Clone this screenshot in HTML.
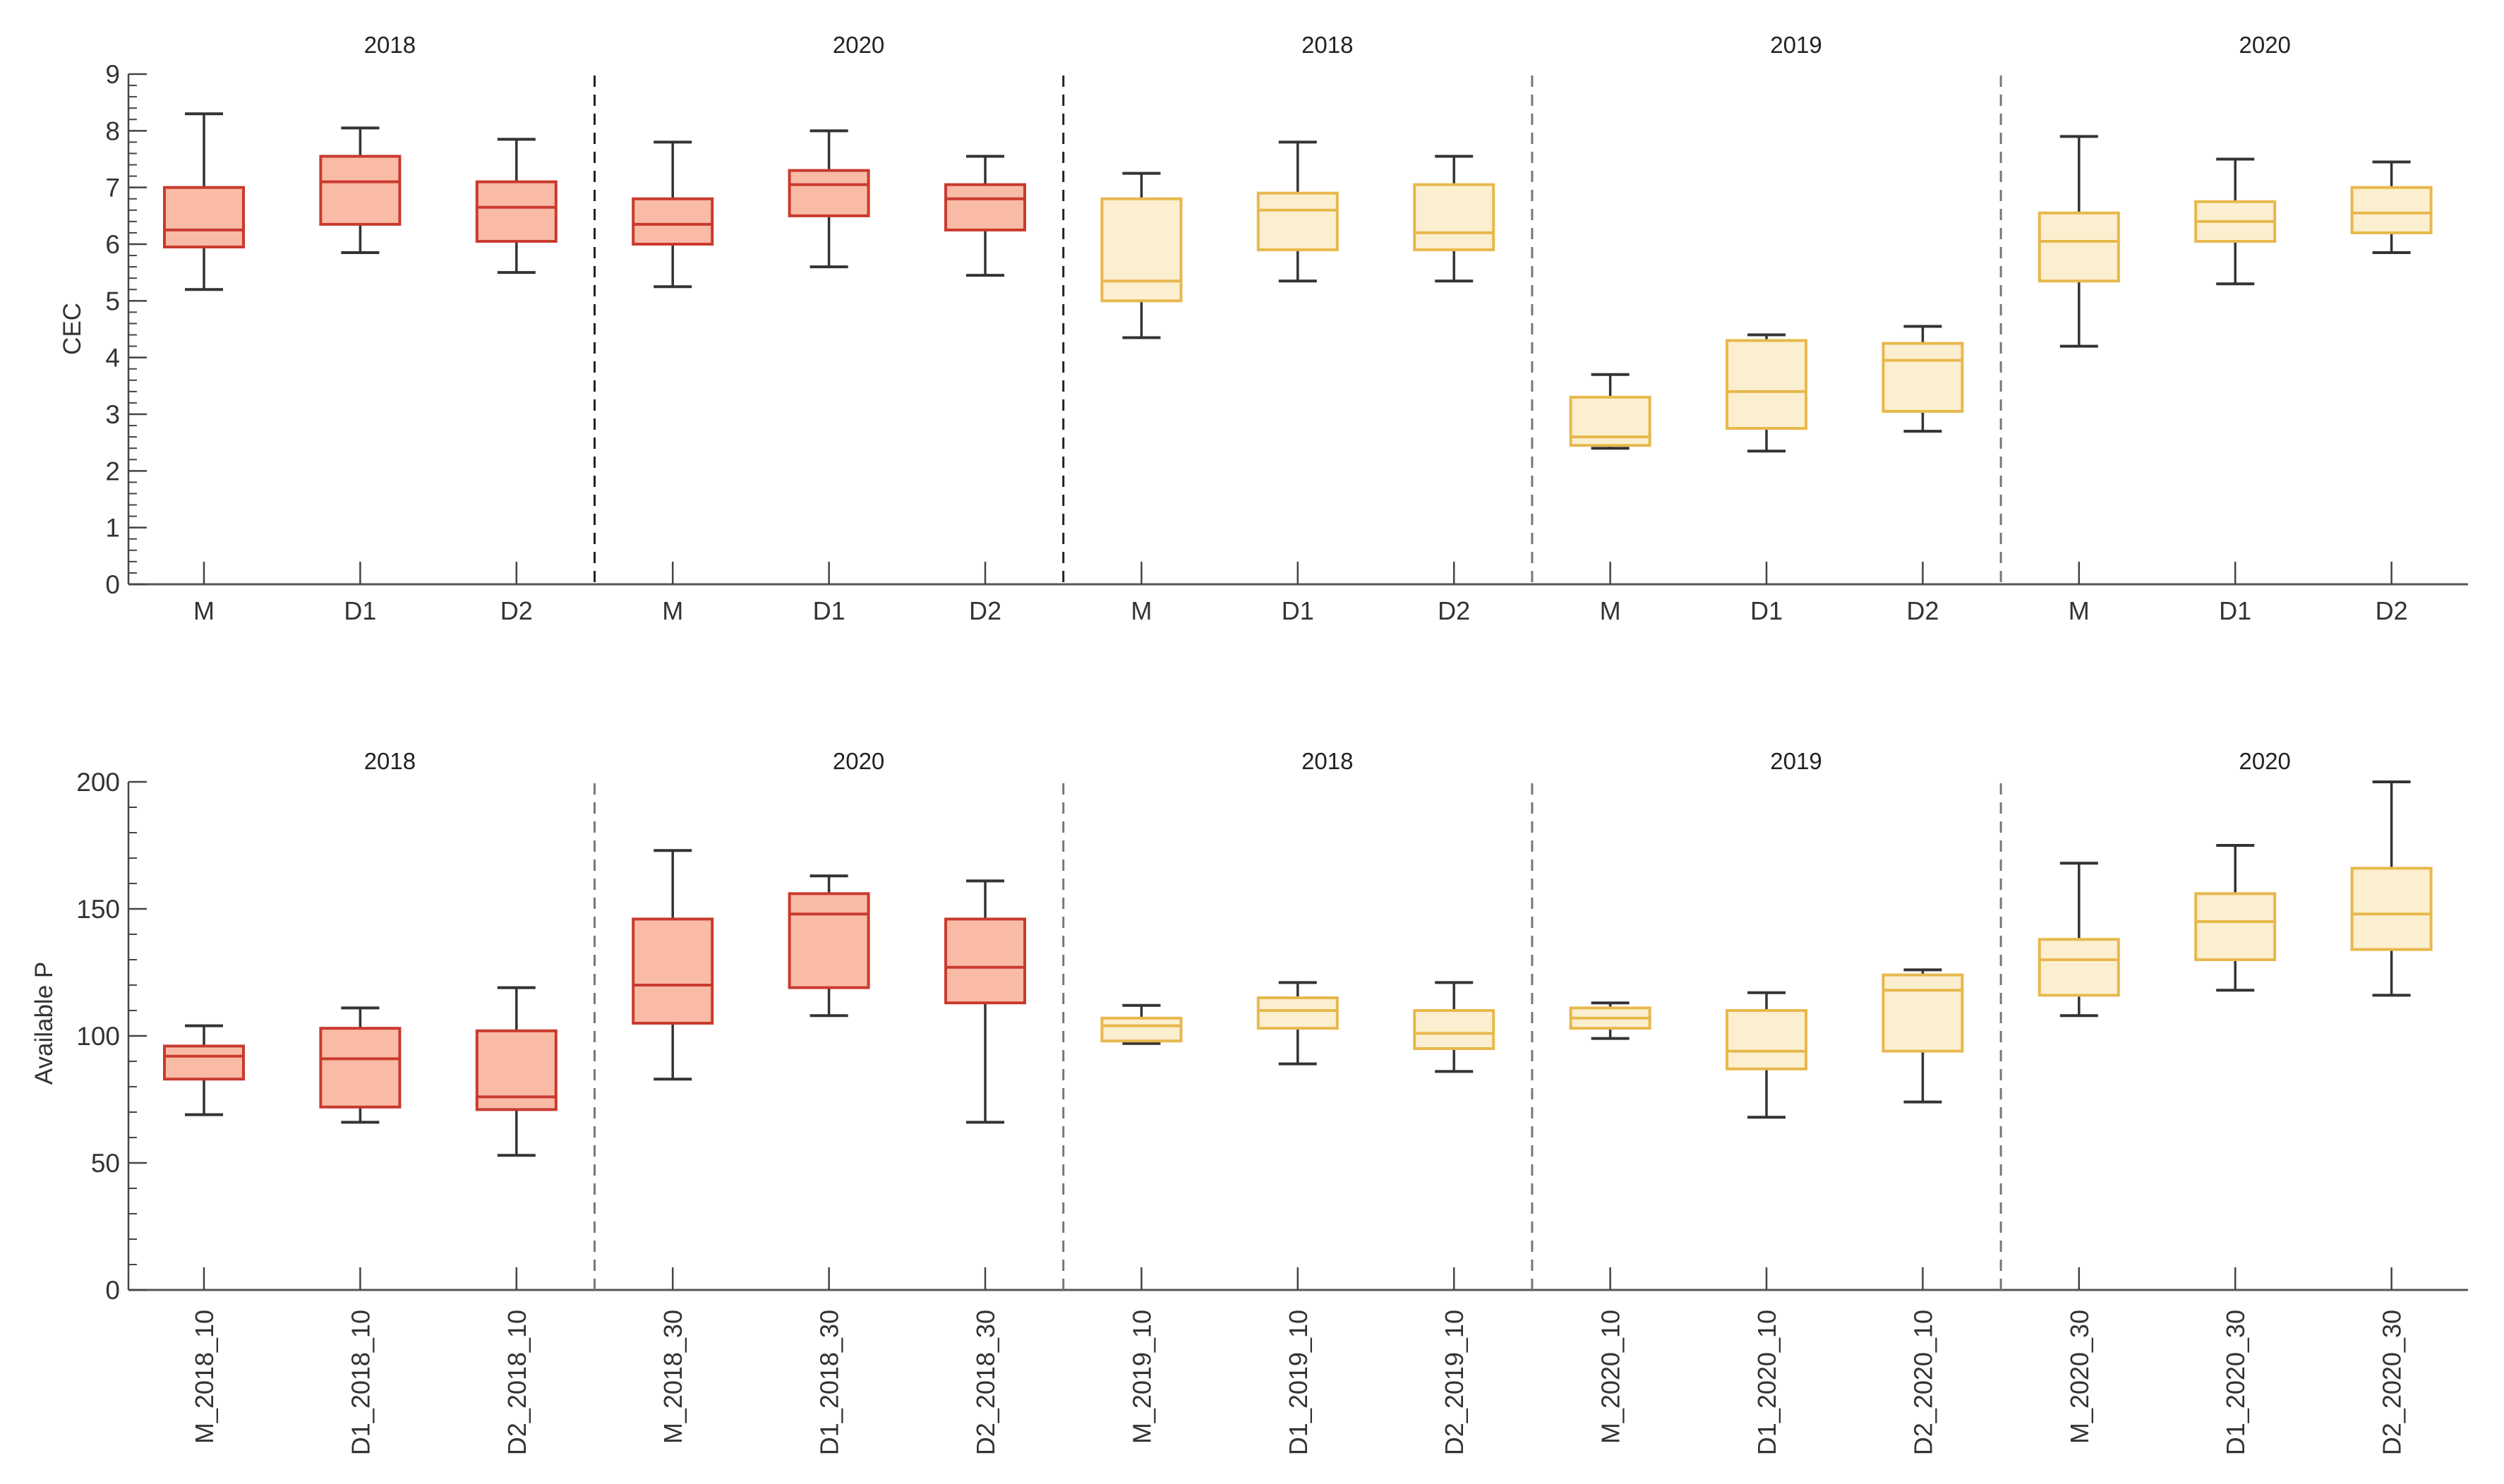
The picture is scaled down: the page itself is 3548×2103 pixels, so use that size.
<!DOCTYPE html>
<html><head><meta charset="utf-8"><style>
html,body{margin:0;padding:0;background:#fff;}
svg{display:block;font-family:"Liberation Sans",Arial,sans-serif;}
</style></head><body>
<svg id="chart" width="3548" height="2103" viewBox="0 0 3548 2103" xmlns="http://www.w3.org/2000/svg"></svg>
<script>
const groupTitles = ["2018","2020","2018","2019","2020"];
const topCats = ["M","D1","D2","M","D1","D2","M","D1","D2","M","D1","D2","M","D1","D2"];
const botCats = ["M_2018_10","D1_2018_10","D2_2018_10","M_2018_30","D1_2018_30","D2_2018_30","M_2019_10","D1_2019_10","D2_2019_10","M_2020_10","D1_2020_10","D2_2020_10","M_2020_30","D1_2020_30","D2_2020_30"];
const cecMin = [5.2,5.85,5.5, 5.25,5.6,5.45, 4.35,5.35,5.35, 2.4,2.35,2.7, 4.2,5.3,5.85];
const cecQ1  = [5.95,6.35,6.05, 6.0,6.5,6.25, 5.0,5.9,5.9, 2.45,2.75,3.05, 5.35,6.05,6.2];
const cecMed = [6.25,7.1,6.65, 6.35,7.05,6.8, 5.35,6.6,6.2, 2.6,3.4,3.95, 6.05,6.4,6.55];
const cecQ3  = [7.0,7.55,7.1, 6.8,7.3,7.05, 6.8,6.9,7.05, 3.3,4.3,4.25, 6.55,6.75,7.0];
const cecMax = [8.3,8.05,7.85, 7.8,8.0,7.55, 7.25,7.8,7.55, 3.7,4.4,4.55, 7.9,7.5,7.45];
const pMin = [69,66,53, 83,108,66, 97,89,86, 99,68,74, 108,118,116];
const pQ1  = [83,72,71, 105,119,113, 98,103,95, 103,87,94, 116,130,134];
const pMed = [92,91,76, 120,148,127, 104,110,101, 107,94,118, 130,145,148];
const pQ3  = [96,103,102, 146,156,146, 107,115,110, 111,110,124, 138,156,166];
const pMax = [104,111,119, 173,163,161, 112,121,121, 113,117,126, 168,175,200];
const cecTicks = [0,1,2,3,4,5,6,7,8,9];
const pTicks = [0,50,100,150,200];

const NS="http://www.w3.org/2000/svg";
const svg=document.getElementById('chart');
function mk(tag,attrs,parent,text){const e=document.createElementNS(NS,tag);for(const k in attrs)e.setAttribute(k,attrs[k]);if(text!==undefined)e.textContent=text;(parent||svg).appendChild(e);return e;}
const X0=289, DX=221.4, AXL=182, AXR=3497;
const xPos=i=>X0+i*DX;
const RED={fill:"#f9bba6",stroke:"#c93a2e"}, YEL={fill:"#fcefd0",stroke:"#e7b84c"};

function panel(cfg){
  const g=mk('g',{});
  
  
  const y=v=>cfg.y0-(v-cfg.vmin)/(cfg.vmax-cfg.vmin)*(cfg.y0-cfg.y1);
  const ax=mk('line',{x1:AXL,y1:cfg.y1,x2:AXL,y2:cfg.y0,stroke:"#444","stroke-width":2.5},g);
  
  const bx=mk('line',{x1:AXL,y1:cfg.y0,x2:AXR,y2:cfg.y0,stroke:"#555","stroke-width":3},g);
  
  for(let v=cfg.vmin;v<=cfg.vmax+1e-9;v+=cfg.minor){
    mk('line',{x1:AXL,y1:y(v),x2:AXL+12,y2:y(v),stroke:"#444","stroke-width":2},g);
  }
  cfg.ticks.forEach(t=>{
    mk('line',{x1:AXL,y1:y(t),x2:AXL+26,y2:y(t),stroke:"#444","stroke-width":2.5},g);
    const tl=mk('text',{x:AXL-12,y:y(t)+13,"text-anchor":"end","font-size":37,fill:"#333"},g,String(t));
    
  });
  const yt=mk('text',{x:cfg.ylx,y:cfg.yly,"text-anchor":"middle","font-size":35,fill:"#333",transform:`rotate(-90 ${cfg.ylx} ${cfg.yly})`},g,cfg.ylabel);
  
  [2,5,8,11].forEach((k,j)=>{
    const sx=(xPos(k)+xPos(k+1))/2;
    const s=mk('line',{x1:sx,y1:cfg.y1+2,x2:sx,y2:cfg.y0+6,stroke:cfg.sepColors[j],"stroke-width":3,"stroke-dasharray":"16,11"},g);
    
  });
  groupTitles.forEach((t,gi)=>{
    const tt=mk('text',{x:xPos(gi*3+1)+42,y:cfg.titleY,"text-anchor":"middle","font-size":33,fill:"#222"},g,t);
    
  });
  cfg.cats.forEach((c,i)=>{
    const x=xPos(i);
    mk('line',{x1:x,y1:cfg.y0,x2:x,y2:cfg.y0-32,stroke:"#444","stroke-width":2.5},g);
    let lab;
    if(cfg.rotate){
      const ly=cfg.y0+28;
      lab=mk('text',{x:x+13,y:ly,"text-anchor":"end","font-size":36,fill:"#333",transform:`rotate(-90 ${x+13} ${ly})`},g,c);
    } else {
      lab=mk('text',{x:x,y:cfg.y0+50,"text-anchor":"middle","font-size":36,fill:"#333"},g,c);
    }
    
    const col=i<6?RED:YEL;
    const bg=mk('g',{},g);
    
    
    const w=56,cap=27;
    mk('line',{x1:x,y1:y(cfg.max[i]),x2:x,y2:y(cfg.q3[i]),stroke:"#333","stroke-width":3.5},bg);
    mk('line',{x1:x,y1:y(cfg.min[i]),x2:x,y2:y(cfg.q1[i]),stroke:"#333","stroke-width":3.5},bg);
    mk('line',{x1:x-cap,y1:y(cfg.max[i]),x2:x+cap,y2:y(cfg.max[i]),stroke:"#333","stroke-width":4},bg);
    mk('line',{x1:x-cap,y1:y(cfg.min[i]),x2:x+cap,y2:y(cfg.min[i]),stroke:"#333","stroke-width":4},bg);
    mk('rect',{x:x-w,y:y(cfg.q3[i]),width:2*w,height:y(cfg.q1[i])-y(cfg.q3[i]),fill:col.fill,stroke:col.stroke,"stroke-width":4},bg);
    mk('line',{x1:x-w,y1:y(cfg.med[i]),x2:x+w,y2:y(cfg.med[i]),stroke:col.stroke,"stroke-width":4},bg);
  });
}
panel({name:'cec-panel',y0:828,y1:105,vmin:0,vmax:9,minor:0.2,ticks:cecTicks,ylabel:'CEC',ylx:114,yly:466,
  titleY:75,cats:topCats,rotate:false,min:cecMin,q1:cecQ1,med:cecMed,q3:cecQ3,max:cecMax,
  sepColors:["#222","#222","#777","#777"]});
panel({name:'available-p-panel',y0:1828,y1:1108,vmin:0,vmax:200,minor:10,ticks:pTicks,ylabel:'Available P',ylx:74,yly:1450,
  titleY:1090,cats:botCats,rotate:true,min:pMin,q1:pQ1,med:pMed,q3:pQ3,max:pMax,
  sepColors:["#777","#777","#777","#777"]});
</script>
</body></html>
